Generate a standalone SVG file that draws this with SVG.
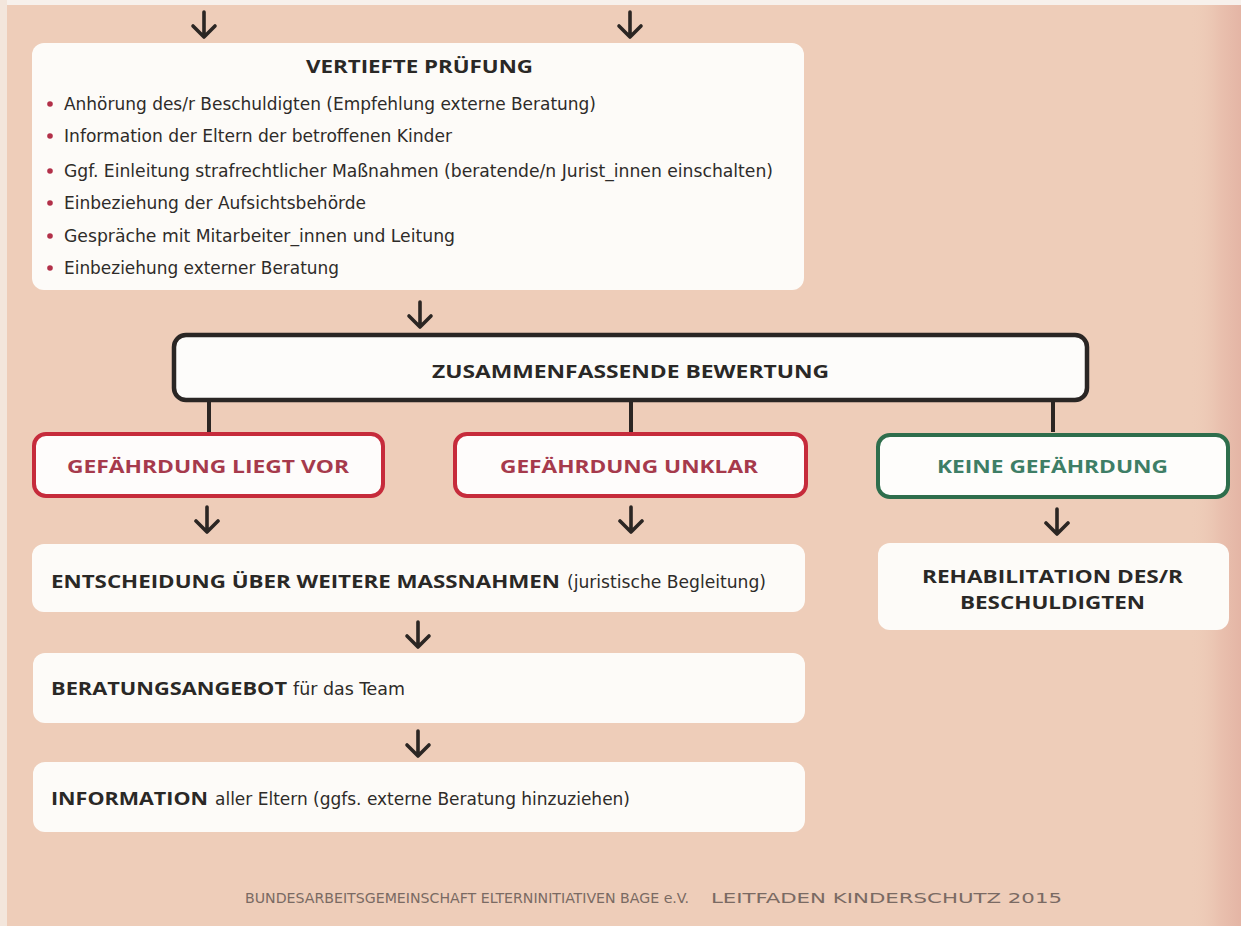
<svg xmlns="http://www.w3.org/2000/svg" width="1241" height="926" viewBox="0 0 1241 926">
<defs>
<linearGradient id="edge" x1="0" y1="0" x2="1" y2="0">
<stop offset="0" stop-color="#EECDB9" stop-opacity="0"/>
<stop offset="0.6" stop-color="#E9C0AE"/>
<stop offset="1" stop-color="#E4B5A5"/>
</linearGradient>
<style>
.bg{fill:#EECDB9}
.box{fill:#FDFBF8}
.dark{fill:#FDFCFA;stroke:#2A2624;stroke-width:4.5}
.red{fill:#FEFCFB;stroke:#C62B3B;stroke-width:4}
.green{fill:#FEFDFB;stroke:#2E6E4C;stroke-width:4}
.arr{fill:none;stroke:#2B2623;stroke-width:3.6;stroke-linecap:round;stroke-linejoin:round}
.ln{fill:none;stroke:#2B2623;stroke-width:4}
.hd{font-family:"Open Sans","Noto Sans","DejaVu Sans",sans-serif;font-weight:bold;font-size:18.5px;fill:#2A2826}
.tx{font-family:"DejaVu Sans Condensed","Liberation Sans",sans-serif;font-size:18.5px;fill:#2E2B29}
.rt{font-family:"Open Sans","Noto Sans","DejaVu Sans",sans-serif;font-weight:bold;font-size:18.5px;fill:#A63A4C}
.gt{font-family:"Open Sans","Noto Sans","DejaVu Sans",sans-serif;font-weight:bold;font-size:18.5px;fill:#3E7E66}
.ft{font-family:"DejaVu Sans Condensed","Liberation Sans",sans-serif;font-size:13.5px;fill:#7A6A63}
.bul{fill:#B23049}
</style>
</defs>
<rect class="bg" x="0" y="0" width="1241" height="926"/>
<rect x="1190" y="0" width="51" height="926" fill="url(#edge)"/>
<rect x="0" y="0" width="1241" height="5" fill="#F7F1EC"/>
<rect x="0" y="0" width="7" height="926" fill="#F3E6DC"/>

<g id="connectors">
<path class="arr" d="M204 12V37M193 26L204 37L215 26"/>
<path class="arr" d="M630 12V37M619 26L630 37L641 26"/>
<path class="arr" d="M420 302V327M409 316L420 327L431 316"/>
<path class="ln" d="M209 402V432M631 402V432M1053 402V432"/>
<path class="arr" d="M207 507V532M196 521L207 532L218 521"/>
<path class="arr" d="M631 507V532M620 521L631 532L642 521"/>
<path class="arr" d="M1057 509V534M1046 523L1057 534L1068 523"/>
<path class="arr" d="M418 622V647M407 636L418 647L429 636"/>
<path class="arr" d="M418 731V756M407 745L418 756L429 745"/>
</g>

<g id="vertiefte-pruefung">
<rect class="box" x="32" y="43" width="772" height="247" rx="12"/>
<text class="hd" x="306" y="73" textLength="227" lengthAdjust="spacingAndGlyphs">VERTIEFTE PRÜFUNG</text>
<circle class="bul" cx="50" cy="104" r="2.8"/>
<circle class="bul" cx="50" cy="136" r="2.8"/>
<circle class="bul" cx="50" cy="171" r="2.8"/>
<circle class="bul" cx="50" cy="203" r="2.8"/>
<circle class="bul" cx="50" cy="236" r="2.8"/>
<circle class="bul" cx="50" cy="268" r="2.8"/>
<text class="tx" x="64" y="110" textLength="532" lengthAdjust="spacingAndGlyphs">Anhörung des/r Beschuldigten (Empfehlung externe Beratung)</text>
<text class="tx" x="64" y="142" textLength="388" lengthAdjust="spacingAndGlyphs">Information der Eltern der betroffenen Kinder</text>
<text class="tx" x="64" y="177" textLength="709" lengthAdjust="spacingAndGlyphs">Ggf. Einleitung strafrechtlicher Maßnahmen (beratende/n Jurist_innen einschalten)</text>
<text class="tx" x="64" y="209" textLength="302" lengthAdjust="spacingAndGlyphs">Einbeziehung der Aufsichtsbehörde</text>
<text class="tx" x="64" y="242" textLength="391" lengthAdjust="spacingAndGlyphs">Gespräche mit Mitarbeiter_innen und Leitung</text>
<text class="tx" x="64" y="274" textLength="275" lengthAdjust="spacingAndGlyphs">Einbeziehung externer Beratung</text>
</g>

<g id="zusammenfassende-bewertung">
<rect class="dark" x="174" y="335" width="913" height="65" rx="12"/>
<text class="hd" x="432" y="378" textLength="397" lengthAdjust="spacingAndGlyphs">ZUSAMMENFASSENDE BEWERTUNG</text>
</g>

<g id="gefaehrdung-liegt-vor">
<rect class="red" x="34" y="434" width="349" height="62" rx="12"/>
<text class="rt" x="67" y="473" textLength="282" lengthAdjust="spacingAndGlyphs">GEFÄHRDUNG LIEGT VOR</text>
</g>

<g id="gefaehrdung-unklar">
<rect class="red" x="455" y="434" width="351" height="62" rx="12"/>
<text class="rt" x="500" y="473" textLength="258" lengthAdjust="spacingAndGlyphs">GEFÄHRDUNG UNKLAR</text>
</g>

<g id="keine-gefaehrdung">
<rect class="green" x="878" y="435" width="350" height="62" rx="12"/>
<text class="gt" x="937" y="473" textLength="231" lengthAdjust="spacingAndGlyphs">KEINE GEFÄHRDUNG</text>
</g>

<g id="rehabilitation">
<rect class="box" x="878" y="543" width="351" height="87" rx="12"/>
<text class="hd" x="922" y="583" textLength="261" lengthAdjust="spacingAndGlyphs">REHABILITATION DES/R</text>
<text class="hd" x="960" y="609" textLength="185" lengthAdjust="spacingAndGlyphs">BESCHULDIGTEN</text>
</g>

<g id="entscheidung">
<rect class="box" x="32" y="544" width="773" height="68" rx="12"/>
<text class="hd" x="51" y="588" textLength="509" lengthAdjust="spacingAndGlyphs">ENTSCHEIDUNG ÜBER WEITERE MASSNAHMEN</text>
<text class="tx" x="567" y="588" textLength="199" lengthAdjust="spacingAndGlyphs">(juristische Begleitung)</text>
</g>

<g id="beratungsangebot">
<rect class="box" x="33" y="653" width="772" height="70" rx="12"/>
<text class="hd" x="51" y="695" textLength="236" lengthAdjust="spacingAndGlyphs">BERATUNGSANGEBOT</text>
<text class="tx" x="293" y="695" textLength="112" lengthAdjust="spacingAndGlyphs">für das Team</text>
</g>

<g id="information">
<rect class="box" x="33" y="762" width="772" height="70" rx="12"/>
<text class="hd" x="51" y="805" textLength="157" lengthAdjust="spacingAndGlyphs">INFORMATION</text>
<text class="tx" x="215" y="805" textLength="415" lengthAdjust="spacingAndGlyphs">aller Eltern (ggfs. externe Beratung hinzuziehen)</text>
</g>

<g id="footer">
<text class="ft" x="245" y="903" textLength="444" lengthAdjust="spacingAndGlyphs">BUNDESARBEITSGEMEINSCHAFT ELTERNINITIATIVEN BAGE e.V.</text>
<text class="ft" x="711" y="903" textLength="351" lengthAdjust="spacingAndGlyphs">LEITFADEN KINDERSCHUTZ 2015</text>
</g>
</svg>
